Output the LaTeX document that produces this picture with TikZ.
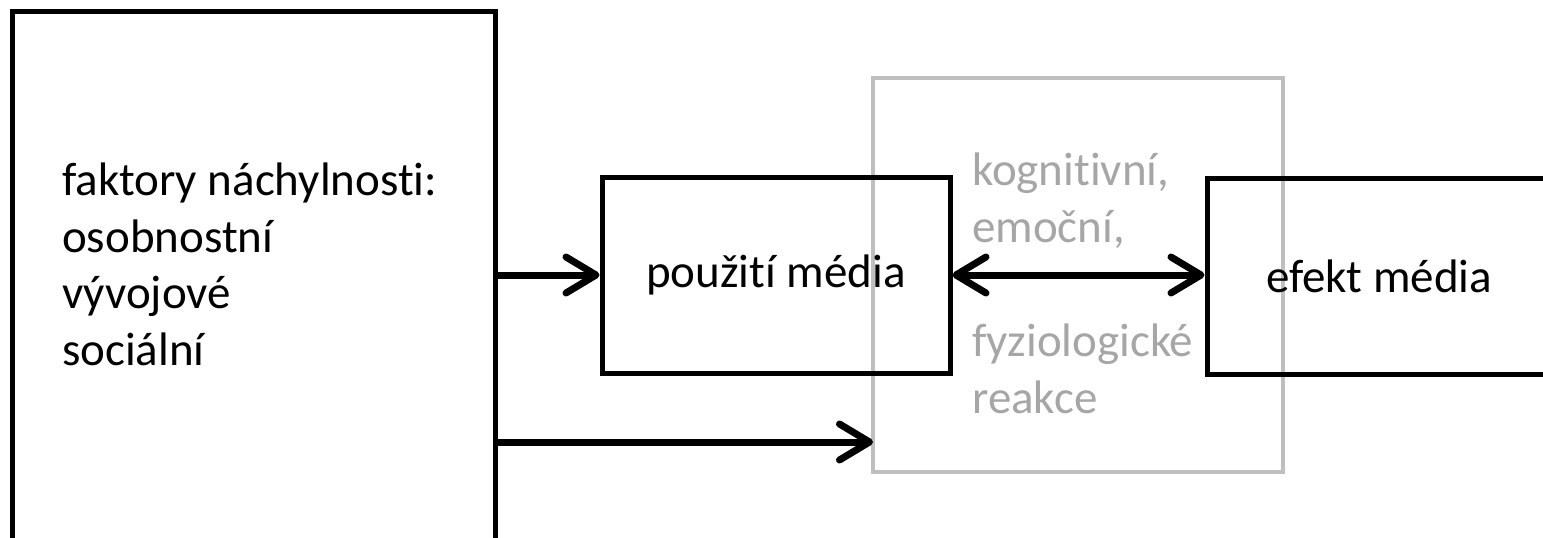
\documentclass[tikz,border=0pt]{standalone}
\usepackage{fontspec}
\setmainfont{Carlito}[Ligatures=NoCommon]
\usetikzlibrary{arrows.meta}
\definecolor{boxgray}{HTML}{BFBFBF}
\definecolor{textgray}{HTML}{A6A6A6}
\begin{document}
\begin{tikzpicture}[x=1pt,y=-1pt,
  blackbox/.style={draw=black, line width=5pt, rectangle, inner sep=0pt},
  graybox/.style={draw=boxgray, line width=4pt, rectangle, inner sep=0pt},
  lbl/.style={inner sep=0pt, font=\fontsize{47}{56.5}\selectfont, align=left},
  arr/.style={line width=7pt, -{Straight Barb[length=30pt,width=36pt,line width=7pt,round]}},
  dblarr/.style={line width=7pt, {Straight Barb[length=30pt,width=36pt,line width=7pt,round]}-{Straight Barb[length=30pt,width=36pt,line width=7pt,round]}}
]
\useasboundingbox (0,0) rectangle (1543,538);
\clip (0,0) rectangle (1543,538);
\fill[white] (0,0) rectangle (1543,538);

% gray box
\node[graybox, minimum width=410pt, minimum height=394pt] (gray) at (1078,275) {};
\node[lbl, text=textgray, anchor=base west] (gtop) at (972,242) {kognitivní,\\emoční,};
\node[lbl, text=textgray, anchor=base west] (gbot) at (972,413) {fyziologické\\reakce};

% black boxes
\node[blackbox, minimum width=483pt, minimum height=549pt] (left) at (253.5,285.5) {};
\node[lbl, anchor=base west] (lefttext) at (62,365) {faktory náchylnosti:\\osobnostní\\vývojové\\sociální};

\node[blackbox, minimum width=348pt, minimum height=196pt, font=\fontsize{47}{56.5}\selectfont] (pouziti) at (776,275) {použití média};
\node[blackbox, minimum width=344pt, minimum height=196pt, font=\fontsize{47}{56.5}\selectfont] (efekt) at (1379,276) {efekt média};

\coordinate (g2) at (873,442);

% connectors
\draw[arr] (left.east |- pouziti.west) -- (pouziti.west);
\draw[arr] (left.east |- g2) -- (g2);
\draw[dblarr] (pouziti.east) -- (pouziti.east -| efekt.west);
\end{tikzpicture}
\end{document}
